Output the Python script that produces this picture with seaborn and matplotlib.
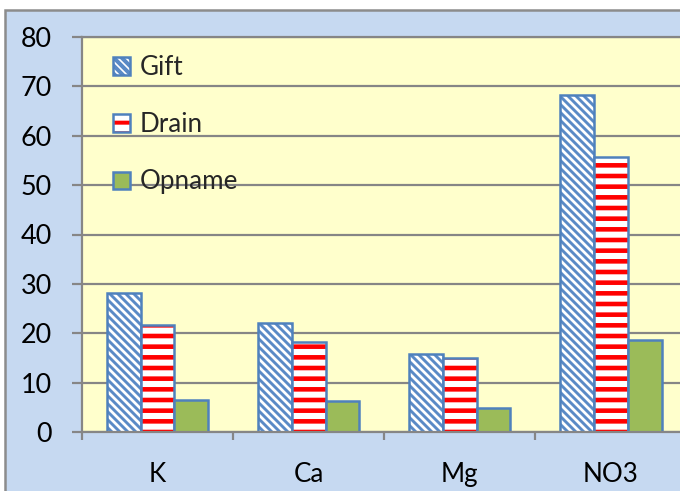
import matplotlib
matplotlib.use('Agg')
import matplotlib.pyplot as plt
import matplotlib.colors as mcolors
from matplotlib.patches import Rectangle
import seaborn as sns
import pandas as pd

ionen = ['K', 'Ca', 'Mg', 'NO3']
gift = [28.1, 22.0, 15.8, 68.2]
drain = [21.7, 18.2, 15.0, 55.7]
opname = [6.5, 6.3, 4.9, 18.6]
series = ['Gift', 'Drain', 'Opname']
y_ticks = [0, 10, 20, 30, 40, 50, 60, 70, 80]

# hoge dpi zodat de arcering de juiste dichtheid krijgt
DPI = 192
PX = 72 / DPI  # punten per pixel

sns.set_style('white')
plt.rcParams['font.family'] = ['Lato', 'DejaVu Sans']
plt.rcParams['hatch.linewidth'] = 4.0 * PX

df = pd.DataFrame({
    'ion': ionen * 3,
    'serie': [s for s in series for _ in ionen],
    'waarde': gift + drain + opname,
})

fig = plt.figure(figsize=(680 / DPI, 491 / DPI), dpi=DPI)
fig.patch.set_facecolor('white')

# lichtblauwe kader rond de grafiek
kader = Rectangle((5 / 680, -0.1), 1.2, 1.1 - 10 / 491,
                  transform=fig.transFigure, facecolor='#C6D9F1',
                  edgecolor='#8C8C8C', lw=2.5 * PX, zorder=-1)
fig.add_artist(kader)

ax = fig.add_axes([82 / 680, 59 / 491, 598 / 680, 395 / 491])
ax.set_facecolor('#FFFFCC')

sns.barplot(
    data=df, x='ion', y='waarde', hue='serie',
    order=ionen, hue_order=series,
    palette=['white', 'white', '#9BBB59'],
    width=0.675, gap=0, saturation=1, errorbar=None,
    edgecolor='#4F81BD', linewidth=2.5 * PX,
    legend=False, ax=ax,
)

# arcering: blauwe diagonalen en rode horizontale strepen
hatches = ['\\' * 8, '---', None]
hatch_colors = ['#5A8AC6', '#FF0000', None]
hatch_widths = [2.9 * PX, 4.6 * PX, None]

for cont, h, hc, hw in zip(ax.containers, hatches, hatch_colors, hatch_widths):
    for p in cont.patches:
        if h is None:
            continue
        p.set_hatch(h)
        if hasattr(p, 'set_hatchcolor'):
            p.set_hatchcolor(hc)
        else:
            p._hatch_color = mcolors.to_rgba(hc)
        if hasattr(p, 'set_hatch_linewidth'):
            p.set_hatch_linewidth(hw)
        elif hasattr(p, '_hatch_linewidth'):
            p._hatch_linewidth = hw
        p.stale = True

grijs = '#868686'

ax.set_ylim(0, 80)
ax.set_xlim(-0.5, 3.46)
ax.set_yticks(y_ticks)
ax.yaxis.grid(True, color=grijs, lw=2.2 * PX)
ax.set_axisbelow(True)

for side in ['left', 'bottom', 'top']:
    ax.spines[side].set_visible(True)
    ax.spines[side].set_color(grijs)
    ax.spines[side].set_linewidth(2.2 * PX)
ax.spines['right'].set_visible(False)

ax.tick_params(axis='y', which='major', direction='out', length=10 * PX,
               width=2.2 * PX, color=grijs, pad=20 * PX,
               labelsize=27 * PX, labelcolor='black', left=True)
ax.set_xticks([0, 1, 2, 3])
ax.set_xticks([-0.5, 0.5, 1.5, 2.5], minor=True)
ax.tick_params(axis='x', which='major', length=0, pad=30 * PX,
               labelsize=26 * PX, labelcolor='black')
ax.tick_params(axis='x', which='minor', direction='out', length=8 * PX,
               width=2.2 * PX, color=grijs, bottom=True)

ax.set_xlabel('')
ax.set_ylabel('')

handles = [c.patches[0] for c in ax.containers]
ax.legend(handles, series, loc='upper left',
          bbox_to_anchor=(31 / 598, 1 - 18 / 395),
          frameon=False, fontsize=26 * PX,
          handlelength=0.65, handleheight=0.65, handletextpad=0.38,
          labelspacing=1.24, borderpad=0, borderaxespad=0)

fig.savefig('out.png', dpi=DPI)
